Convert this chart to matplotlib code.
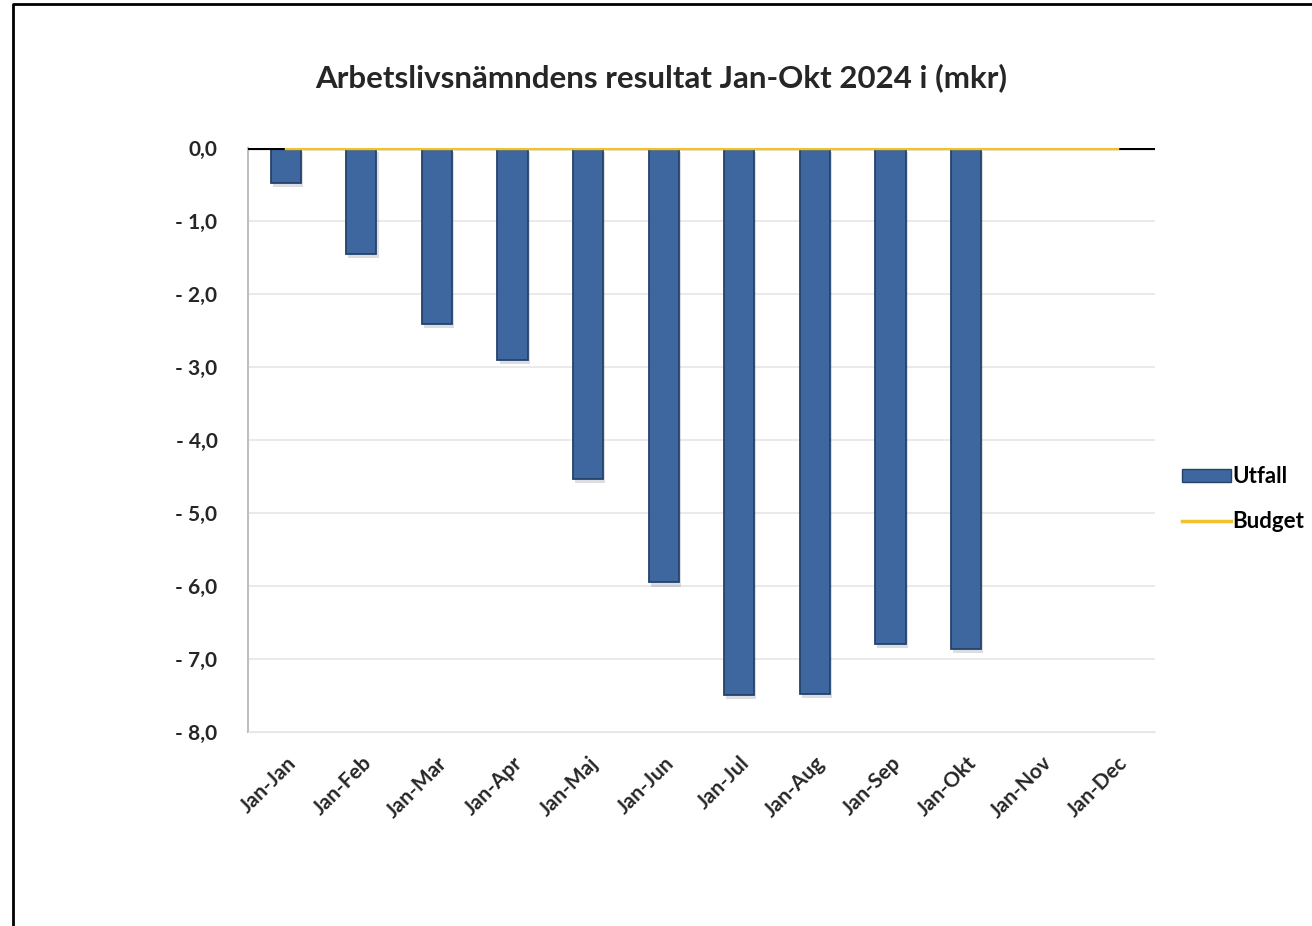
import numpy as np
import matplotlib.pyplot as plt
import matplotlib.patheffects as pe
from matplotlib.lines import Line2D
from matplotlib.patches import Patch

plt.rcParams['font.family'] = ['Lato', 'DejaVu Sans']

months = ["Jan-Jan", "Jan-Feb", "Jan-Mar", "Jan-Apr", "Jan-Maj", "Jan-Jun",
          "Jan-Jul", "Jan-Aug", "Jan-Sep", "Jan-Okt", "Jan-Nov", "Jan-Dec"]
utfall = [-0.48, -1.45, -2.41, -2.90, -4.53, -5.95, -7.49, -7.48, -6.79, -6.86]
budget = [0, 0, 0, 0, 0, 0, 0, 0, 0, 0, 0, 0]
yticks = [0, -1, -2, -3, -4, -5, -6, -7, -8]

fig = plt.figure(figsize=(13.12, 9.26), dpi=100)
ax = fig.add_axes([248 / 1312, 1 - 732 / 926, 907 / 1312, 584 / 926])

x = np.arange(len(months))
bars = ax.bar(x[:len(utfall)], utfall, width=0.4, color="#3D679E",
              edgecolor="#24426A", linewidth=1.3, zorder=3)
for b in bars:
    b.set_path_effects([pe.SimplePatchShadow(offset=(1.5, -3), alpha=0.15), pe.Normal()])

ax.axhline(0, color="black", lw=3, zorder=4)
ax.plot(x, budget, color="#F2C12E", lw=2.5, zorder=5)

ax.set_xlim(-0.5, len(months) - 0.5)
ax.set_ylim(-8, 0)
ax.set_yticks(yticks)
ax.set_yticklabels(["0,0" if v == 0 else "- {:.1f}".format(-v).replace(".", ",") for v in yticks],
                   fontsize=15, fontweight="bold", color="#262626")
ax.set_xticks(x)
ax.set_xticklabels(months, rotation=45, ha="right", rotation_mode="anchor",
                   fontsize=15, fontweight="bold", color="#262626")
ax.tick_params(axis="y", length=0, pad=22)
ax.tick_params(axis="x", length=0, pad=15)
ax.grid(axis="y", color="#E6E6E6", lw=1.2, zorder=0)
for s in ["top", "right"]:
    ax.spines[s].set_visible(False)
ax.spines["left"].set_color("#BFBFBF")
ax.spines["left"].set_linewidth(1.5)
ax.spines["bottom"].set_color("#E6E6E6")

fig.text(661 / 1312, 1 - 78 / 926, "Arbetslivsnämndens resultat Jan-Okt 2024 i (mkr)",
         fontsize=22.5, fontweight="bold", color="#262626", ha="center", va="center")

handles = [Patch(facecolor="#3D679E", edgecolor="#24426A"),
           Line2D([0], [0], color="#F2C12E", lw=2.5)]
fig.legend(handles, ["Utfall", "Budget"], loc="center left",
           bbox_to_anchor=(1182 / 1312, 1 - 499 / 926), frameon=False,
           borderpad=0, borderaxespad=0,
           prop={"weight": "bold", "size": 16}, handlelength=2.2, handleheight=0.5,
           handletextpad=0.05, labelspacing=1.05)

# outer frame of the original picture
fig.add_artist(Line2D([13 / 1312, 13 / 1312, 1], [0, 1 - 4 / 926, 1 - 4 / 926],
                      transform=fig.transFigure, color="black", lw=2))

fig.savefig("out.png", dpi=100)
